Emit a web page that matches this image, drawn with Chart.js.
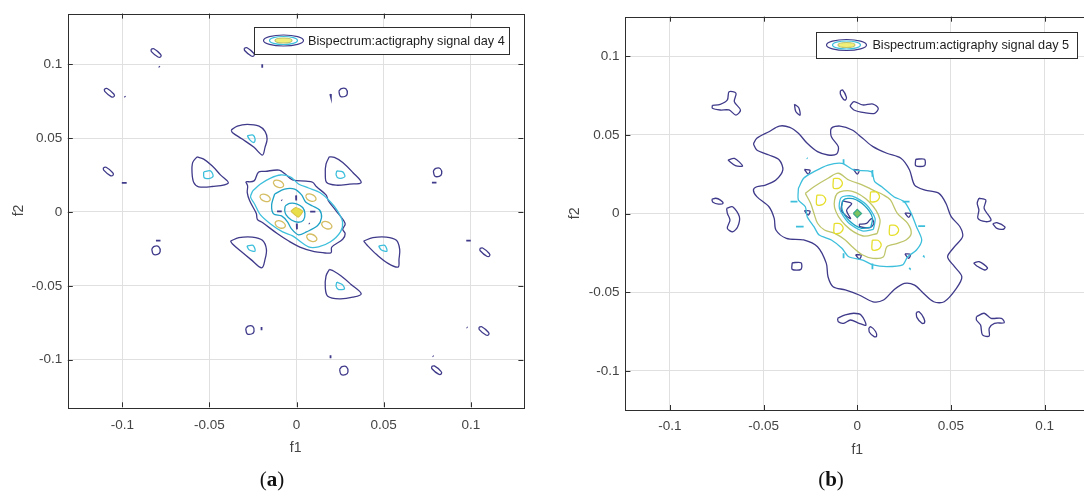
<!DOCTYPE html>
<html><head><meta charset="utf-8">
<script src="https://cdn.jsdelivr.net/npm/chart.js@4.4.0/dist/chart.umd.min.js"></script>
<style>
html,body{margin:0;padding:0;background:#fff;overflow:hidden;width:1084px;height:496px;position:relative;}
.wrap{position:absolute;top:0;width:540px;height:496px;}
#wa{left:0;} #wb{left:560px;}
.sub{position:absolute;top:466px;width:100px;text-align:center;font-family:"Liberation Serif",serif;font-size:21px;line-height:26px;color:#111;}
</style></head>
<body>
<div class="wrap" id="wa"><canvas id="ca" width="540" height="496"></canvas></div>
<div class="wrap" id="wb"><canvas id="cb" width="540" height="496"></canvas></div>
<div class="sub" style="left:222px">(<b>a</b>)</div>
<div class="sub" style="left:781px">(<b>b</b>)</div>
<script>
// ---------- axis data ----------
const TICKS = [-0.1, -0.05, 0, 0.05, 0.1];
const TICK_LABELS = ['-0.1', '-0.05', '0', '0.05', '0.1'];
const A_F1_LIMITS = [-0.1313, 0.1302];
const A_F2_LIMITS = [-0.1322, 0.1342];
const B_F1_LIMITS = [-0.1237, 0.1237];
const B_F2_LIMITS = [-0.1249, 0.1251];
const X_TITLE = 'f1';
const Y_TITLE = 'f2';
const LEGEND_A = 'Bispectrum:actigraphy signal day 4';
const LEGEND_B = 'Bispectrum:actigraphy signal day 5';

// ---------- panel (a) contours (f1, f2) ----------
const A_LEVEL1 = [
  [[-0.0292,0.0204],[-0.0244,0.0210],[-0.0219,0.0269],[-0.0181,0.0274],[-0.0100,0.0283],[-0.0065,0.0256],[-0.0023,0.0217],[0.0054,0.0208],[0.0092,0.0201],[0.0115,0.0170],[0.0169,0.0115],[0.0183,0.0075],[0.0227,0.0007],[0.0279,-0.0079],[0.0265,-0.0118],[0.0279,-0.0147],[0.0265,-0.0185],[0.0202,-0.0238],[0.0198,-0.0276],[0.0150,-0.0276],[0.0102,-0.0269],[0.0019,-0.0238],[-0.0052,-0.0192],[-0.0109,-0.0148],[-0.0196,-0.0072],[-0.0225,-0.0050],[-0.0231,-0.0011],[-0.0269,0.0075],[-0.0283,0.0131],[-0.0281,0.0176]],
  [[-0.0375,0.0554],[-0.0340,0.0581],[-0.0283,0.0593],[-0.0215,0.0581],[-0.0181,0.0545],[-0.0169,0.0493],[-0.0181,0.0437],[-0.0196,0.0385],[-0.0244,0.0437],[-0.0312,0.0493],[-0.0369,0.0538]],
  [[-0.0571,0.0373],[-0.0596,0.0335],[-0.0600,0.0267],[-0.0590,0.0199],[-0.0562,0.0170],[-0.0485,0.0172],[-0.0392,0.0195],[-0.0437,0.0251],[-0.0485,0.0312],[-0.0533,0.0357]],
  [[0.0188,0.0373],[0.0169,0.0323],[0.0165,0.0256],[0.0173,0.0199],[0.0227,0.0181],[0.0304,0.0188],[0.0371,0.0199],[0.0323,0.0267],[0.0265,0.0335],[0.0217,0.0369]],
  [[-0.0379,-0.0197],[-0.0331,-0.0174],[-0.0254,-0.0170],[-0.0196,-0.0192],[-0.0173,-0.0253],[-0.0181,-0.0321],[-0.0200,-0.0378],[-0.0263,-0.0321],[-0.0321,-0.0265],[-0.0369,-0.0215]],
  [[0.0385,-0.0197],[0.0438,-0.0174],[0.0515,-0.0170],[0.0573,-0.0192],[0.0592,-0.0253],[0.0588,-0.0321],[0.0583,-0.0373],[0.0525,-0.0348],[0.0458,-0.0287],[0.0404,-0.0224]],
  [[0.0188,-0.0389],[0.0169,-0.0434],[0.0165,-0.0513],[0.0179,-0.0570],[0.0246,-0.0588],[0.0323,-0.0577],[0.0371,-0.0554],[0.0313,-0.0491],[0.0256,-0.0434],[0.0212,-0.0400]],
  [[-0.0835,0.1101],[-0.0819,0.1104],[-0.0781,0.1067],[-0.0779,0.1051],[-0.0795,0.1048],[-0.0833,0.1085]],
  [[-0.0300,0.1108],[-0.0284,0.1111],[-0.0246,0.1074],[-0.0244,0.1058],[-0.0260,0.1055],[-0.0298,0.1092]],
  [[-0.1103,0.0832],[-0.1087,0.0835],[-0.1049,0.0798],[-0.1047,0.0782],[-0.1063,0.0779],[-0.1101,0.0816]],
  [[0.0243,0.0817],[0.0257,0.0835],[0.0283,0.0833],[0.0291,0.0799],[0.0277,0.0781],[0.0251,0.0783]],
  [[-0.1109,0.0299],[-0.1093,0.0302],[-0.1055,0.0265],[-0.1053,0.0249],[-0.1069,0.0246],[-0.1107,0.0283]],
  [[0.0785,0.0277],[0.0799,0.0295],[0.0825,0.0293],[0.0833,0.0259],[0.0819,0.0241],[0.0793,0.0243]],
  [[-0.0831,-0.0251],[-0.0817,-0.0233],[-0.0791,-0.0235],[-0.0783,-0.0269],[-0.0797,-0.0287],[-0.0823,-0.0285]],
  [[0.1052,-0.0247],[0.1068,-0.0244],[0.1106,-0.0281],[0.1108,-0.0297],[0.1092,-0.0300],[0.1054,-0.0263]],
  [[-0.0292,-0.0790],[-0.0278,-0.0772],[-0.0252,-0.0774],[-0.0244,-0.0808],[-0.0258,-0.0826],[-0.0284,-0.0824]],
  [[0.1047,-0.0780],[0.1063,-0.0777],[0.1101,-0.0814],[0.1103,-0.0830],[0.1087,-0.0833],[0.1049,-0.0796]],
  [[0.0247,-0.1065],[0.0261,-0.1047],[0.0287,-0.1049],[0.0295,-0.1083],[0.0281,-0.1101],[0.0255,-0.1099]],
  [[0.0775,-0.1045],[0.0791,-0.1042],[0.0829,-0.1079],[0.0831,-0.1095],[0.0815,-0.1098],[0.0777,-0.1061]]
];
const A_LEVEL1_MARKS = [
  [[-0.0790,0.0985],[-0.0786,0.0979]],
  [[-0.0197,0.1000],[-0.0197,0.0975]],
  [[-0.0987,0.0783],[-0.0983,0.0777]],
  [[0.0193,0.0798],[0.0197,0.0780]],
  [[-0.1003,0.0196],[-0.0975,0.0196]],
  [[0.0777,0.0198],[0.0803,0.0198]],
  [[-0.0807,-0.0194],[-0.0781,-0.0194]],
  [[0.0974,-0.0194],[0.1000,-0.0194]],
  [[-0.0201,-0.0778],[-0.0201,-0.0800]],
  [[0.0977,-0.0780],[0.0981,-0.0784]],
  [[0.0195,-0.0970],[0.0195,-0.0990]],
  [[0.0782,-0.0974],[0.0786,-0.0978]],
  [[-0.0087,0.0081],[-0.0083,0.0077]],
  [[-0.0003,0.0112],[-0.0002,0.0078]],
  [[-0.0112,0.0004],[-0.0085,0.0004]],
  [[0.0078,0.0002],[0.0108,0.0002]],
  [[0.0001,-0.0078],[0.0002,-0.0118]],
  [[0.0071,-0.0077],[0.0075,-0.0081]]
];
const A_LEVEL2 = [
  [[-0.0283,0.0516],[-0.0250,0.0520],[-0.0238,0.0493],[-0.0244,0.0470],[-0.0267,0.0486]],
  [[-0.0533,0.0271],[-0.0494,0.0278],[-0.0479,0.0242],[-0.0504,0.0226],[-0.0531,0.0233]],
  [[0.0231,0.0278],[0.0265,0.0271],[0.0277,0.0238],[0.0242,0.0228],[0.0227,0.0251]],
  [[-0.0285,-0.0231],[-0.0250,-0.0226],[-0.0238,-0.0265],[-0.0273,-0.0256]],
  [[0.0471,-0.0231],[0.0506,-0.0226],[0.0519,-0.0265],[0.0487,-0.0258]],
  [[0.0231,-0.0475],[0.0262,-0.0491],[0.0275,-0.0520],[0.0242,-0.0525],[0.0227,-0.0502]],
  [[-0.0252,0.0142],[-0.0207,0.0189],[-0.0149,0.0229],[-0.0092,0.0250],[-0.0034,0.0236],[0.0011,0.0189],[0.0069,0.0162],[0.0138,0.0128],[0.0195,0.0067],[0.0235,0.0007],[0.0264,-0.0067],[0.0252,-0.0135],[0.0195,-0.0202],[0.0126,-0.0236],[0.0069,-0.0236],[-0.0023,-0.0162],[-0.0080,-0.0135],[-0.0149,-0.0081],[-0.0207,-0.0020],[-0.0241,0.0054],[-0.0264,0.0101]]
];
const A_LEVEL3 = [
  [[-0.0126,0.0121],[-0.0069,0.0155],[-0.0011,0.0155],[0.0029,0.0115],[0.0052,0.0067],[0.0092,0.0040],[0.0132,0.0013],[0.0143,-0.0040],[0.0120,-0.0094],[0.0057,-0.0135],[0.0011,-0.0155],[-0.0029,-0.0115],[-0.0052,-0.0067],[-0.0086,-0.0027],[-0.0132,-0.0013],[-0.0143,0.0047]],
  [[-0.0065,0.0040],[-0.0040,0.0058],[0.0000,0.0055],[0.0035,0.0030],[0.0048,-0.0010],[0.0040,-0.0055],[0.0010,-0.0070],[-0.0030,-0.0055],[-0.0060,-0.0020],[-0.0068,0.0010]]
];
const A_LEVEL4 = [
  [[-0.0134,0.0199],[-0.0125,0.0213],[-0.0104,0.0214],[-0.0083,0.0201],[-0.0074,0.0181],[-0.0083,0.0167],[-0.0104,0.0166],[-0.0125,0.0179]],
  [[-0.0211,0.0104],[-0.0202,0.0118],[-0.0181,0.0119],[-0.0160,0.0106],[-0.0151,0.0086],[-0.0160,0.0072],[-0.0181,0.0071],[-0.0202,0.0084]],
  [[0.0052,0.0106],[0.0061,0.0120],[0.0082,0.0121],[0.0103,0.0108],[0.0112,0.0088],[0.0103,0.0074],[0.0082,0.0073],[0.0061,0.0086]],
  [[-0.0124,-0.0076],[-0.0115,-0.0062],[-0.0094,-0.0061],[-0.0073,-0.0074],[-0.0064,-0.0094],[-0.0073,-0.0108],[-0.0094,-0.0109],[-0.0115,-0.0096]],
  [[0.0143,-0.0081],[0.0152,-0.0067],[0.0173,-0.0066],[0.0194,-0.0079],[0.0203,-0.0099],[0.0194,-0.0113],[0.0173,-0.0114],[0.0152,-0.0101]],
  [[0.0057,-0.0166],[0.0066,-0.0152],[0.0087,-0.0151],[0.0108,-0.0164],[0.0117,-0.0184],[0.0108,-0.0198],[0.0087,-0.0199],[0.0066,-0.0186]]
];
const A_PEAK = [
  [[-0.0033,0.0005],[-0.0005,0.0030],[0.0035,0.0005],[0.0010,-0.0035]]
];

// ---------- panel (b) contours (f1, f2) ----------
const B_LEVEL1 = [
  [[-0.0554,0.0442],[-0.0536,0.0478],[-0.0471,0.0520],[-0.0416,0.0556],[-0.0360,0.0548],[-0.0314,0.0510],[-0.0267,0.0446],[-0.0212,0.0393],[-0.0156,0.0372],[-0.0110,0.0378],[-0.0101,0.0425],[-0.0138,0.0488],[-0.0138,0.0542],[-0.0092,0.0556],[-0.0027,0.0531],[0.0029,0.0478],[0.0084,0.0425],[0.0158,0.0383],[0.0233,0.0351],[0.0279,0.0277],[0.0306,0.0181],[0.0362,0.0149],[0.0436,0.0128],[0.0473,0.0065],[0.0501,-0.0020],[0.0548,-0.0084],[0.0562,-0.0147],[0.0519,-0.0211],[0.0482,-0.0275],[0.0519,-0.0338],[0.0558,-0.0402],[0.0529,-0.0476],[0.0464,-0.0561],[0.0408,-0.0561],[0.0353,-0.0507],[0.0306,-0.0455],[0.0251,-0.0444],[0.0195,-0.0486],[0.0140,-0.0550],[0.0084,-0.0561],[0.0010,-0.0518],[-0.0064,-0.0486],[-0.0129,-0.0465],[-0.0156,-0.0402],[-0.0165,-0.0317],[-0.0212,-0.0211],[-0.0286,-0.0168],[-0.0378,-0.0158],[-0.0434,-0.0105],[-0.0443,-0.0031],[-0.0471,0.0043],[-0.0536,0.0107],[-0.0554,0.0149],[-0.0536,0.0170],[-0.0490,0.0181],[-0.0434,0.0213],[-0.0397,0.0277],[-0.0416,0.0340],[-0.0471,0.0372],[-0.0536,0.0404]],
  [[-0.0773,0.0688],[-0.0731,0.0694],[-0.0693,0.0722],[-0.0684,0.0774],[-0.0647,0.0764],[-0.0656,0.0711],[-0.0623,0.0658],[-0.0647,0.0626],[-0.0684,0.0658],[-0.0731,0.0658],[-0.0773,0.0669]],
  [[-0.0335,0.0695],[-0.0312,0.0672],[-0.0305,0.0625],[-0.0328,0.0648]],
  [[-0.0090,0.0780],[-0.0078,0.0785],[-0.0058,0.0740],[-0.0062,0.0722],[-0.0075,0.0728],[-0.0090,0.0760]],
  [[-0.0039,0.0683],[-0.0018,0.0711],[0.0029,0.0690],[0.0084,0.0696],[0.0112,0.0669],[0.0093,0.0637],[0.0038,0.0641],[-0.0018,0.0658]],
  [[-0.0690,0.0340],[-0.0655,0.0350],[-0.0612,0.0302],[-0.0650,0.0305]],
  [[0.0312,0.0345],[0.0359,0.0345],[0.0359,0.0304],[0.0312,0.0304]],
  [[-0.0776,0.0090],[-0.0755,0.0097],[-0.0730,0.0085],[-0.0716,0.0065],[-0.0740,0.0060],[-0.0770,0.0072]],
  [[-0.0697,0.0033],[-0.0665,0.0043],[-0.0629,-0.0020],[-0.0638,-0.0084],[-0.0665,-0.0116],[-0.0693,-0.0094],[-0.0679,-0.0041],[-0.0693,0.0001]],
  [[0.0649,0.0097],[0.0686,0.0086],[0.0677,0.0033],[0.0714,-0.0041],[0.0686,-0.0052],[0.0644,-0.0031],[0.0649,0.0022],[0.0640,0.0065]],
  [[0.0723,-0.0065],[0.0745,-0.0058],[0.0788,-0.0085],[0.0780,-0.0100],[0.0745,-0.0095]],
  [[-0.0347,-0.0313],[-0.0300,-0.0313],[-0.0300,-0.0355],[-0.0347,-0.0355]],
  [[0.0621,-0.0315],[0.0650,-0.0306],[0.0695,-0.0345],[0.0680,-0.0359],[0.0640,-0.0335]],
  [[-0.0105,-0.0666],[-0.0064,-0.0645],[-0.0018,-0.0634],[0.0020,-0.0645],[0.0047,-0.0709],[0.0010,-0.0698],[-0.0036,-0.0677],[-0.0073,-0.0698],[-0.0101,-0.0688]],
  [[0.0062,-0.0728],[0.0072,-0.0720],[0.0098,-0.0750],[0.0103,-0.0780],[0.0090,-0.0783],[0.0065,-0.0755]],
  [[0.0315,-0.0630],[0.0330,-0.0624],[0.0355,-0.0665],[0.0359,-0.0695],[0.0345,-0.0698],[0.0318,-0.0660]],
  [[0.0636,-0.0656],[0.0677,-0.0634],[0.0714,-0.0666],[0.0769,-0.0666],[0.0784,-0.0694],[0.0732,-0.0698],[0.0704,-0.0730],[0.0704,-0.0779],[0.0668,-0.0772],[0.0658,-0.0709],[0.0636,-0.0677]],
  [[-0.0282,0.0280],[-0.0252,0.0275],[-0.0262,0.0250]],
  [[-0.0020,0.0280],[0.0010,0.0275],[0.0000,0.0250]],
  [[-0.0282,0.0018],[-0.0252,0.0015],[-0.0262,-0.0010]],
  [[0.0254,0.0003],[0.0284,0.0000],[0.0274,-0.0025]],
  [[-0.0009,-0.0262],[0.0021,-0.0265],[0.0011,-0.0290]],
  [[0.0254,-0.0257],[0.0284,-0.0260],[0.0274,-0.0285]],
  [[-0.0078,0.0080],[-0.0030,0.0063],[-0.0057,0.0021],[-0.0036,-0.0032],[-0.0085,0.0017]],
  [[0.0011,-0.0068],[0.0050,-0.0063],[0.0076,-0.0032],[0.0089,-0.0063],[0.0068,-0.0089],[0.0014,-0.0084]]
];
const B_LEVEL2 = [
  [[-0.0314,0.0160],[-0.0286,0.0224],[-0.0231,0.0266],[-0.0156,0.0308],[-0.0082,0.0319],[-0.0018,0.0277],[0.0075,0.0266],[0.0093,0.0202],[0.0131,0.0170],[0.0195,0.0107],[0.0251,0.0075],[0.0288,0.0001],[0.0316,-0.0084],[0.0344,-0.0168],[0.0316,-0.0232],[0.0269,-0.0275],[0.0242,-0.0327],[0.0158,-0.0338],[0.0084,-0.0327],[0.0029,-0.0296],[-0.0045,-0.0275],[-0.0082,-0.0221],[-0.0138,-0.0168],[-0.0203,-0.0137],[-0.0231,-0.0084],[-0.0267,-0.0020],[-0.0277,0.0043],[-0.0314,0.0086]],
  [[0.0086,-0.0101],[0.0095,-0.0031],[0.0048,0.0057],[-0.0027,0.0111],[-0.0086,0.0101],[-0.0095,0.0031],[-0.0048,-0.0057],[0.0027,-0.0111]]
];
const B_LEVEL2_MARKS = [
  [[-0.0269,0.0353],[-0.0265,0.0349]],
  [[-0.0073,0.0345],[-0.0073,0.0315]],
  [[0.0081,0.0277],[0.0081,0.0234]],
  [[-0.0356,0.0075],[-0.0319,0.0075]],
  [[0.0242,0.0075],[0.0279,0.0075]],
  [[-0.0327,-0.0084],[-0.0286,-0.0084]],
  [[0.0325,-0.0080],[0.0362,-0.0080]],
  [[-0.0073,-0.0253],[-0.0073,-0.0285]],
  [[0.0081,-0.0317],[0.0081,-0.0355]],
  [[0.0351,-0.0268],[0.0355,-0.0272]],
  [[0.0277,-0.0346],[0.0281,-0.0350]]
];
const B_LEVEL3 = [
  [[0.0073,-0.0086],[0.0081,-0.0026],[0.0041,0.0048],[-0.0023,0.0094],[-0.0073,0.0086],[-0.0081,0.0026],[-0.0041,-0.0048],[0.0023,-0.0094]]
];
const B_LEVEL4 = [
  [[-0.0277,0.0128],[-0.0231,0.0170],[-0.0156,0.0224],[-0.0101,0.0256],[-0.0045,0.0213],[0.0029,0.0181],[0.0084,0.0149],[0.0140,0.0118],[0.0177,0.0086],[0.0214,0.0001],[0.0269,-0.0062],[0.0288,-0.0126],[0.0260,-0.0168],[0.0214,-0.0190],[0.0158,-0.0211],[0.0140,-0.0275],[0.0084,-0.0285],[0.0029,-0.0264],[-0.0027,-0.0211],[-0.0064,-0.0168],[-0.0120,-0.0126],[-0.0175,-0.0105],[-0.0212,-0.0062],[-0.0231,0.0001],[-0.0249,0.0065]],
  [[0.0107,-0.0127],[0.0121,-0.0037],[0.0063,0.0075],[-0.0031,0.0143],[-0.0107,0.0127],[-0.0121,0.0037],[-0.0063,-0.0075],[0.0031,-0.0143]]
];
const B_LEVEL5 = [
  [[-0.0127,0.0222],[-0.0097,0.0222],[-0.0081,0.0202],[-0.0081,0.0182],[-0.0097,0.0162],[-0.0127,0.0162]],
  [[-0.0216,0.0116],[-0.0186,0.0116],[-0.0170,0.0096],[-0.0170,0.0076],[-0.0186,0.0056],[-0.0216,0.0056]],
  [[0.0071,0.0137],[0.0101,0.0137],[0.0117,0.0117],[0.0117,0.0097],[0.0101,0.0077],[0.0071,0.0077]],
  [[-0.0123,-0.0064],[-0.0093,-0.0064],[-0.0077,-0.0084],[-0.0077,-0.0104],[-0.0093,-0.0124],[-0.0123,-0.0124]],
  [[0.0173,-0.0075],[0.0203,-0.0075],[0.0219,-0.0095],[0.0219,-0.0115],[0.0203,-0.0135],[0.0173,-0.0135]],
  [[0.0080,-0.0170],[0.0110,-0.0170],[0.0126,-0.0190],[0.0126,-0.0210],[0.0110,-0.0230],[0.0080,-0.0230]]
];
const B_PEAK = [
  [[-0.0021,0.0000],[0.0000,0.0027],[0.0023,0.0000],[0.0000,-0.0027]]
];

// ---------- styling ----------
const NAVY = '#3f3a8a';
const CYAN = '#3dbfdc';
const TEAL = '#1ea2c6';
const KHAKI = '#d4bd62';
const YELLOW = '#e9df4a';
const OLIVE = '#bec56a';
const FONT = '"Liberation Sans", Arial, sans-serif';

function loopSet(poly, color, w, t, closed, fillColor) {
  const pts = (closed ? poly.concat([poly[0]]) : poly).map(p => ({x: p[0], y: p[1]}));
  return {
    data: pts, showLine: true, borderColor: color, borderWidth: w,
    pointRadius: 0, pointHoverRadius: 0, tension: t,
    fill: fillColor ? 'shape' : false, backgroundColor: fillColor || 'transparent'
  };
}
function many(list, color, w, t, closed, fillColor) {
  return list.map(p => loopSet(p, color, w, t, closed, fillColor));
}

const framePlugin = {
  id: 'frame',
  afterDatasetsDraw(chart) {
    const {ctx, chartArea: a, scales: {x, y}} = chart;
    ctx.save();
    ctx.strokeStyle = '#2e2e2e';
    ctx.lineWidth = 1;
    ctx.beginPath();
    x.ticks.forEach(t => {
      const p = Math.round(x.getPixelForValue(t.value)) + 0.5;
      ctx.moveTo(p, a.bottom); ctx.lineTo(p, a.bottom - 5);
      ctx.moveTo(p, a.top); ctx.lineTo(p, a.top + 5);
    });
    y.ticks.forEach(t => {
      const p = Math.round(y.getPixelForValue(t.value)) + 0.5;
      ctx.moveTo(a.left, p); ctx.lineTo(a.left + 5, p);
      ctx.moveTo(a.right, p); ctx.lineTo(a.right - 5, p);
    });
    ctx.stroke();
    ctx.strokeRect(Math.round(a.left) + 0.5, Math.round(a.top) + 0.5, Math.round(a.right - a.left), Math.round(a.bottom - a.top));
    ctx.restore();
  }
};

const legendPlugin = {
  id: 'boxLegend',
  afterDraw(chart, args, o) {
    const ctx = chart.ctx;
    ctx.save();
    ctx.fillStyle = '#fff';
    ctx.fillRect(o.x, o.y, o.w, o.h);
    ctx.strokeStyle = '#2e2e2e';
    ctx.lineWidth = 1;
    ctx.strokeRect(o.x + 0.5, o.y + 0.5, o.w, o.h);
    const cx = o.ix, cy = o.y + o.h / 2;
    ctx.beginPath(); ctx.ellipse(cx, cy, 20, 5.5, 0, 0, Math.PI * 2);
    ctx.strokeStyle = NAVY; ctx.lineWidth = 1.2; ctx.stroke();
    ctx.beginPath(); ctx.ellipse(cx, cy, 14, 4, 0, 0, Math.PI * 2);
    ctx.strokeStyle = CYAN; ctx.stroke();
    ctx.beginPath(); ctx.ellipse(cx, cy, 8.5, 2.5, 0, 0, Math.PI * 2);
    ctx.fillStyle = '#f1f07a'; ctx.fill();
    ctx.strokeStyle = OLIVE; ctx.stroke();
    ctx.fillStyle = '#1e1e1e';
    ctx.font = '12.7px ' + FONT;
    ctx.textBaseline = 'middle';
    ctx.textAlign = 'left';
    ctx.fillText(o.text, o.tx, cy + 0.5);
    ctx.restore();
  }
};

function makeChart(id, datasets, lim, L) {
  const tickFont = {family: FONT, size: 13.5};
  return new Chart(document.getElementById(id), {
    type: 'scatter',
    data: {datasets},
    plugins: [framePlugin, legendPlugin],
    options: {
      responsive: false, animation: false, events: [],
      layout: {padding: L.pad},
      plugins: {legend: {display: false}, tooltip: {enabled: false}, boxLegend: L.legend},
      scales: {
        x: {
          type: 'linear', min: lim.x[0], max: lim.x[1],
          afterBuildTicks: s => { s.ticks = TICKS.map(v => ({value: v})); },
          afterFit: s => { s.height = L.xh; },
          grid: {color: '#e0e0e0', lineWidth: 1, drawTicks: false},
          border: {display: false},
          ticks: {font: tickFont, color: '#444', padding: L.xpad, maxRotation: 0, autoSkip: false,
                  callback: (v, i) => TICK_LABELS[i]},
          title: {display: true, text: X_TITLE, font: {family: FONT, size: 14}, color: '#444', padding: {top: 0, bottom: 0}}
        },
        y: {
          type: 'linear', min: lim.y[0], max: lim.y[1],
          afterBuildTicks: s => { s.ticks = TICKS.map(v => ({value: v})); },
          afterFit: s => { s.width = L.yw; },
          grid: {color: '#e0e0e0', lineWidth: 1, drawTicks: false},
          border: {display: false},
          ticks: {font: tickFont, color: '#444', padding: L.ypad, autoSkip: false,
                  callback: (v, i) => TICK_LABELS[i]},
          title: {display: true, text: Y_TITLE, font: {family: FONT, size: 14}, color: '#444', padding: {top: L.ytp, bottom: 0}}
        }
      }
    }
  });
}

const dsA = [].concat(
  many(A_PEAK, '#d9c64a', 1.2, 0.2, true, YELLOW),
  many(A_LEVEL4, KHAKI, 1.3, 0.35, true),
  many(A_LEVEL3, TEAL, 1.3, 0.3, true),
  many(A_LEVEL2, CYAN, 1.3, 0.3, true),
  many(A_LEVEL1_MARKS, NAVY, 1.8, 0, false),
  many(A_LEVEL1, NAVY, 1.3, 0.35, true)
);
const dsB = [].concat(
  many(B_PEAK, '#3aa88a', 1.2, 0, true, '#7cc25e'),
  many(B_LEVEL5, '#e6df2c', 1.3, 0.3, true),
  many(B_LEVEL4, OLIVE, 1.3, 0.3, true),
  many(B_LEVEL3, TEAL, 1.3, 0.3, true),
  many(B_LEVEL2, CYAN, 1.3, 0.25, true),
  many(B_LEVEL2_MARKS, CYAN, 1.8, 0, false),
  many(B_LEVEL1, NAVY, 1.3, 0.3, true)
);

makeChart('ca', dsA, {x: A_F1_LIMITS, y: A_F2_LIMITS}, {
  pad: {left: 0, top: 12.3, right: 16.6, bottom: 39.6},
  xh: 49.1, yw: 67.8, xpad: 9.4, ypad: 5.5, ytp: 10.6,
  legend: {x: 254, y: 27, w: 255, h: 27, ix: 283.5, tx: 308, text: LEGEND_A}
});
makeChart('cb', dsB, {x: B_F1_LIMITS, y: B_F2_LIMITS}, {
  pad: {left: 0, top: 16.7, right: 10.9, bottom: 37.6},
  xh: 48.4, yw: 65.4, xpad: 8.6, ypad: 6, ytp: 6.3,
  legend: {x: 256, y: 32, w: 261, h: 26, ix: 286.5, tx: 312.4, text: LEGEND_B}
});
</script>
</body></html>
